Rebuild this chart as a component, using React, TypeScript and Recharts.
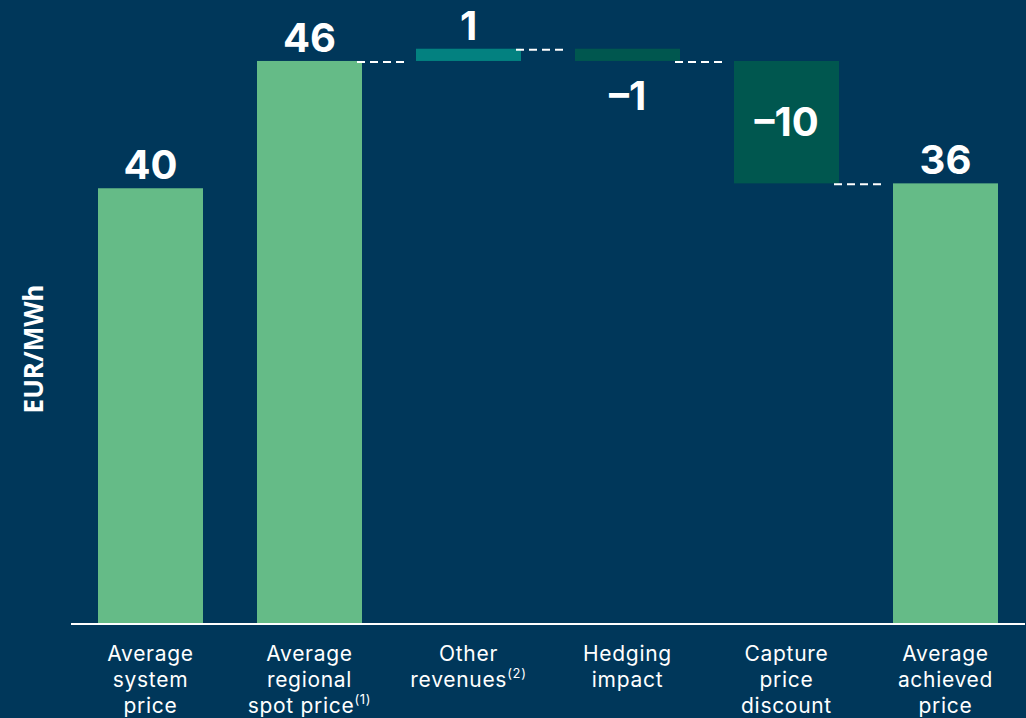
import { Bar, BarChart, LabelList, XAxis, YAxis } from "recharts";

const categories = [
  "Average system price",
  "Average regional spot price",
  "Other revenues",
  "Hedging impact",
  "Capture price discount",
  "Average achieved price",
];
const tickLines = [
  ["Average", "system", "price"],
  ["Average", "regional", "spot price"],
  ["Other", "revenues"],
  ["Hedging", "impact"],
  ["Capture", "price", "discount"],
  ["Average", "achieved", "price"],
];
const footnotes = ["", "(1)", "(2)", "", "", ""];
const labelValues = [40, 46, 1, -1, -10, 36];
// drawn extent of each bar (start / end level)
const barLow = [0, 0, 46, 46, 36, 0];
const barHigh = [35.6, 46, 47, 47, 46, 36];
const barKinds = ["total", "total", "up", "down", "down", "total"];
const labelPlacement = ["above", "above", "above", "below", "inside", "above"];
const connectorAfter = [false, true, true, true, true, false];

const BG = "#00375A";
const COLORS: Record<string, string> = {
  total: "#65BB87",
  up: "#038180",
  down: "#00574F",
};

const data = categories.map((name, i) => ({
  name,
  range: [barLow[i], barHigh[i]],
  label: labelValues[i],
  kind: barKinds[i],
}));

const FONT = "Inter, 'Open Sans', sans-serif";

function WaterfallShape(props: any) {
  const { x, y, width, height, index } = props;
  const top = Math.min(y, y + height);
  const h = Math.abs(height);
  const kind = barKinds[index];
  const endY = kind === "down" ? top + h : top;
  return (
    <g>
      <rect x={x} y={top} width={width} height={h} fill={COLORS[kind]} />
      {connectorAfter[index] && (
        <line
          x1={x + width - 5}
          x2={x + width + 46}
          y1={endY + 1}
          y2={endY + 1}
          stroke="#ffffff"
          strokeWidth={2}
          strokeDasharray="8 5"
        />
      )}
    </g>
  );
}

function ValueLabel(props: any) {
  const { x, y, width, height, index } = props;
  const top = Math.min(y, y + height);
  const h = Math.abs(height);
  const place = labelPlacement[index];
  let ty = top - 9;
  if (place === "below") ty = top + h + 49;
  if (place === "inside") ty = top + h / 2 + 14;
  const v = labelValues[index];
  return (
    <text
      x={x + width / 2}
      y={ty}
      textAnchor="middle"
      fill="#ffffff"
      fontFamily={FONT}
      fontWeight={700}
      fontSize={40}
    >
      {v < 0 ? `\u2013${Math.abs(v)}` : v}
    </text>
  );
}

function CategoryTick(props: any) {
  const { x, y, index } = props;
  const lines = tickLines[index] || [];
  return (
    <text
      x={x}
      y={y}
      textAnchor="middle"
      fill="#ffffff"
      fontFamily={FONT}
      fontSize={21}
      letterSpacing={0.7}
    >
      {lines.map((line, i) => (
        <tspan key={i} x={x} y={y + 37 + i * 26}>
          {line}
          {i === lines.length - 1 && footnotes[index] && (
            <tspan fontSize={13} dy={-9}>
              {footnotes[index]}
            </tspan>
          )}
        </tspan>
      ))}
    </text>
  );
}

export default function App() {
  return (
    <div
      style={{
        position: "absolute",
        left: 0,
        top: 0,
        width: 1026,
        height: 718,
        background: BG,
      }}
    >
      <BarChart
        width={1026}
        height={718}
        data={data}
        margin={{ top: 12, right: 1, bottom: 0, left: 0 }}
      >
        <XAxis
          dataKey="name"
          interval={0}
          height={94}
          tickLine={false}
          tickSize={0}
          tickMargin={0}
          axisLine={{ stroke: "#ffffff", strokeWidth: 2 }}
          tick={<CategoryTick />}
        />
        <YAxis
          width={71}
          domain={[0, 50]}
          tick={false}
          axisLine={false}
          tickLine={false}
          label={{
            content: (p: any) => {
              const vb = p.viewBox || { x: 0, y: 12, height: 612 };
              const cx = 33;
              const cy = vb.y + vb.height / 2 + 31;
              return (
                <text
                  x={cx}
                  y={cy}
                  transform={`rotate(-90 ${cx} ${cy})`}
                  textAnchor="middle"
                  dominantBaseline="central"
                  fill="#ffffff"
                  fontFamily="'Open Sans', sans-serif"
                  fontWeight={700}
                  fontSize={26}
                >
                  EUR/MWh
                </text>
              );
            },
          }}
        />
        <Bar
          dataKey="range"
          barSize={105}
          isAnimationActive={false}
          shape={<WaterfallShape />}
        >
          <LabelList dataKey="label" content={<ValueLabel />} />
        </Bar>
      </BarChart>
    </div>
  );
}
